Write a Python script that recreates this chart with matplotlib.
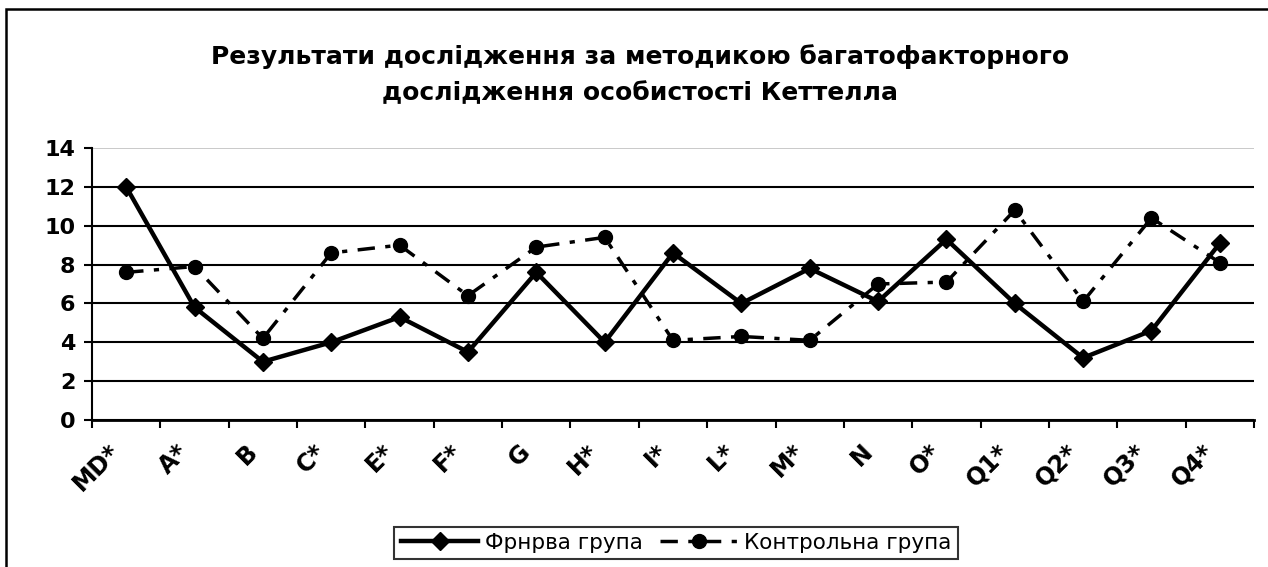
#!/usr/bin/env python3
import matplotlib
matplotlib.use('Agg')
import matplotlib.pyplot as plt
import matplotlib.transforms as mtransforms
from matplotlib.patches import Rectangle

# factor names
factors = ['MD*', 'A*', 'B', 'C*', 'E*', 'F*', 'G', 'H*', 'I*', 'L*', 'M*',
           'N', 'O*', 'Q1*', 'Q2*', 'Q3*', 'Q4*']

# main group (solid, diamonds)
main_group = [12.0, 5.8, 3.0, 4.0, 5.3, 3.5, 7.6, 4.0, 8.6, 6.0, 7.8,
              6.1, 9.3, 6.0, 3.2, 4.6, 9.1]

# control group (dash-dot, circles)
control_group = [7.6, 7.9, 4.2, 8.6, 9.0, 6.4, 8.9, 9.4, 4.1, 4.3, 4.1,
                 7.0, 7.1, 10.8, 6.1, 10.4, 8.1]

yticks = [0, 2, 4, 6, 8, 10, 12, 14]

title = ('Результати дослідження за методикою багатофакторного\n'
         'дослідження особистості Кеттелла')
label_main = 'Фрнрва група'
label_control = 'Контрольна група'

W, H = 1268, 567
fig = plt.figure(figsize=(W / 100, H / 100), dpi=100)
ax = fig.add_axes([92 / W, 1 - 420 / H, (1254 - 92) / W, (420 - 148) / H])

x = list(range(len(factors)))
ax.plot(x, main_group, color='black', lw=3.2, marker='D', ms=9.5,
        label=label_main, zorder=4)
ax.plot(x, control_group, color='black', lw=2.5, marker='o', ms=10,
        linestyle=(0, (5, 3, 1.5, 3)), label=label_control, zorder=3)

ax.set_xlim(-0.5, len(factors) - 0.5)
ax.set_ylim(0, 14)
ax.set_yticks(yticks)
ax.set_yticklabels([str(v) for v in yticks], fontsize=16, fontweight='bold')

ax.set_xticks(x)
ax.set_xticklabels(factors, fontsize=17, fontweight='bold', rotation=45,
                   ha='right', rotation_mode='anchor')
ax.tick_params(axis='x', which='major', length=0, pad=14)
shift = mtransforms.ScaledTranslation(-0.18, 0, fig.dpi_scale_trans)
for lab in ax.get_xticklabels():
    lab.set_transform(lab.get_transform() + shift)
ax.set_xticks([i - 0.5 for i in range(len(factors) + 1)], minor=True)
ax.tick_params(axis='x', which='minor', length=6, width=1.5, direction='out')
ax.tick_params(axis='y', length=6, width=1.5, direction='out', pad=6)

ax.grid(axis='y', color='black', lw=1.5)
gl = ax.yaxis.get_gridlines()
gl[-1].set_color('#c0c0c0')
gl[-1].set_linewidth(1.2)
ax.set_axisbelow(True)

for s in ['top', 'right']:
    ax.spines[s].set_visible(False)
ax.spines['left'].set_linewidth(1.5)
ax.spines['bottom'].set_linewidth(2)

fig.text(0.505, 1 - 75 / H, title, ha='center', va='center', fontsize=18,
         fontweight='bold', linespacing=1.65)

leg = fig.legend(loc='center', bbox_to_anchor=(676 / W, 1 - 543 / H), ncol=2,
                 fontsize=15.5, frameon=True, fancybox=False, edgecolor='black',
                 handlelength=3.6, columnspacing=0.8, handletextpad=0.3,
                 borderpad=0.3)
leg.get_frame().set_linewidth(1.5)

# outer frame of the chart
fig.patches.append(Rectangle((6 / W, -0.1), 1.2, 1.1 - 9 / H,
                             transform=fig.transFigure, fill=False,
                             edgecolor='black', lw=1.8))

fig.savefig('out.png', dpi=100)
